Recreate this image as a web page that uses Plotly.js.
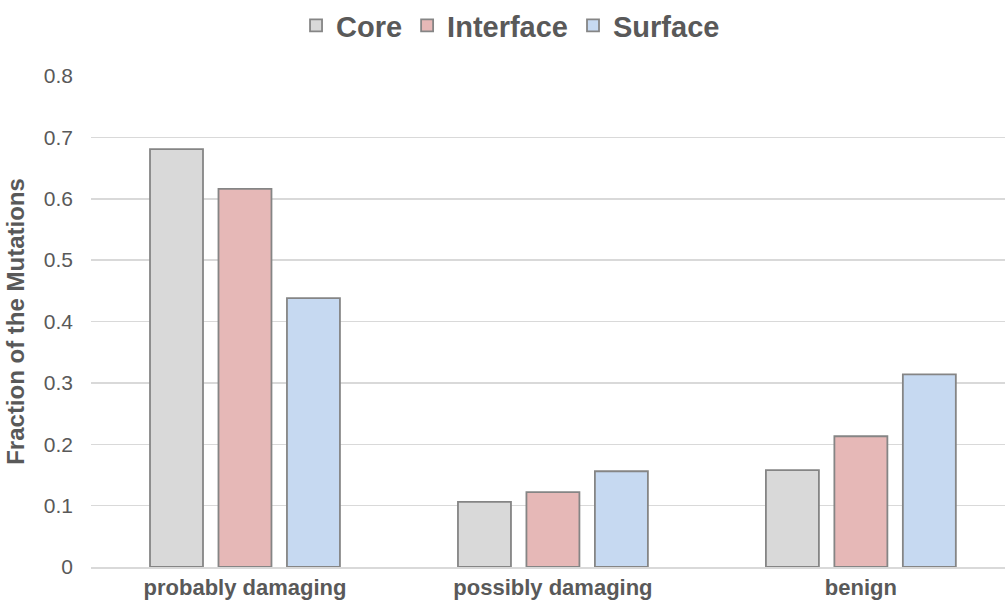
<!DOCTYPE html>
<html>
<head>
<meta charset="utf-8">
<script src="https://cdn.plot.ly/plotly-3.0.1.min.js"></script>
<style>html,body{margin:0;padding:0;background:#fff;}#chart{width:1005px;height:602px;}</style>
</head>
<body>
<div id="chart"></div>
<script>
const categories = ["probably damaging", "possibly damaging", "benign"];
const seriesNames = ["Core", "Interface", "Surface"];
const coreValues = [0.681, 0.106, 0.158];
const interfaceValues = [0.616, 0.122, 0.213];
const surfaceValues = [0.438, 0.156, 0.314];
const yTickValues = [0, 0.1, 0.2, 0.3, 0.4, 0.5, 0.6, 0.7, 0.8];
const yTickLabels = ["0", "0.1", "0.2", "0.3", "0.4", "0.5", "0.6", "0.7", "0.8"];

const colors = ["#d9d9d9", "#e6b8b7", "#c6d9f1"];
const allValues = [coreValues, interfaceValues, surfaceValues];

const traces = seriesNames.map((name, i) => ({
  type: "bar",
  name: name,
  x: categories,
  y: allValues[i],
  marker: { color: colors[i], line: { color: "#858585", width: 1.8 } },
  hoverinfo: "none"
}));

const layout = {
  width: 1005,
  height: 602,
  paper_bgcolor: "#ffffff",
  plot_bgcolor: "#ffffff",
  margin: { l: 91, r: 0, t: 76, b: 35 },
  barmode: "group",
  bargap: 0.333,
  bargroupgap: 0.226,
  font: { family: "Liberation Sans, Arial, sans-serif", color: "#595959" },
  showlegend: true,
  legend: {
    orientation: "h",
    xref: "container", yref: "container",
    x: 0.508, xanchor: "center",
    y: 1, yanchor: "top",
    font: { size: 29, weight: "bold", color: "#595959" },
    itemwidth: 30,
    traceorder: "normal"
  },
  xaxis: {
    type: "category",
    range: [-0.5, 2.468],
    showgrid: false,
    showline: true,
    linecolor: "#d9d9d9",
    linewidth: 1.5,
    ticks: "",
    tickfont: { size: 22, weight: "bold", color: "#595959" },
    fixedrange: true
  },
  yaxis: {
    range: [0, 0.8],
    tickvals: yTickValues,
    ticktext: yTickLabels,
    showgrid: true,
    gridcolor: "#d9d9d9",
    gridwidth: 1.5,
    zeroline: false,
    showline: false,
    ticks: "",
    ticklabelstandoff: 17,
    tickfont: { size: 21, color: "#595959" },
    title: { text: "Fraction of the Mutations", font: { size: 24, weight: "bold", color: "#595959" }, standoff: 12 },
    fixedrange: true
  }
};

Plotly.newPlot("chart", traces, layout, { staticPlot: true, displayModeBar: false });
</script>
</body>
</html>
